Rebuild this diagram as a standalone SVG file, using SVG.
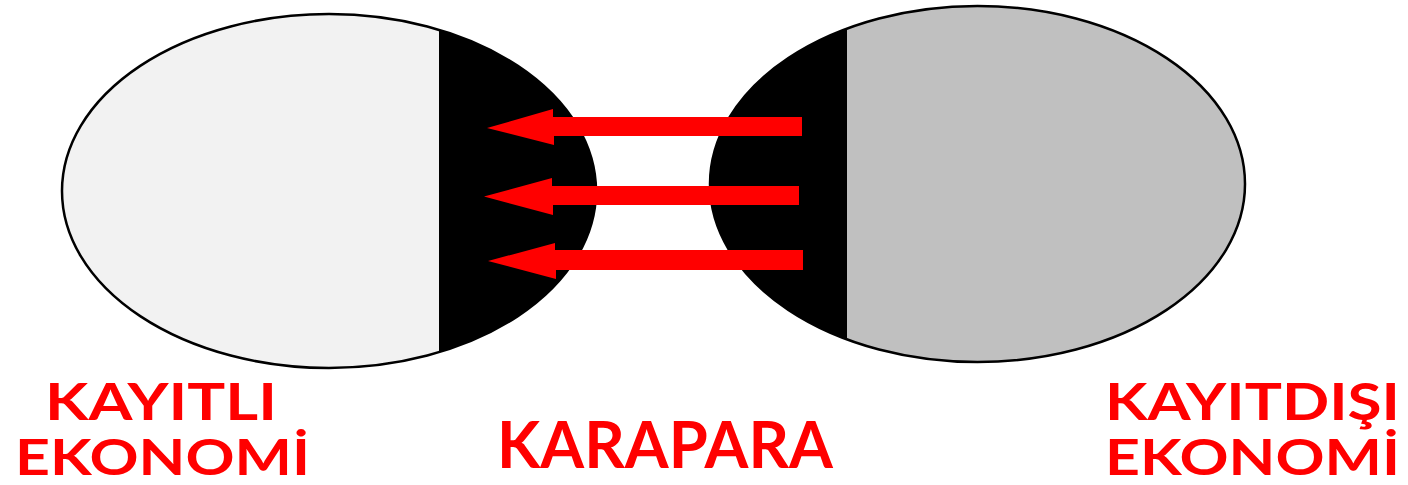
<svg xmlns="http://www.w3.org/2000/svg" width="1408" height="485" viewBox="0 0 1408 485">
<style>
.lbl{font-family:Lato,"Open Sans","Liberation Sans",sans-serif;font-weight:bold;fill:#ff0000;}
.outline{fill:none;stroke:#000;stroke-width:2.5;}
.arrow{fill:#ff0000;stroke:none;}
</style>
<defs>
<clipPath id="clipL"><ellipse cx="329" cy="191" rx="267" ry="177"/></clipPath>
<clipPath id="clipR"><ellipse cx="977.5" cy="184" rx="267.5" ry="178"/></clipPath>
</defs>
<rect width="1408" height="485" fill="#fff"/>
<g id="kayitli-ekonomi">
<g clip-path="url(#clipL)">
<rect x="60" y="10" width="379" height="362" fill="#f2f2f2"/>
<rect x="439" y="10" width="160" height="362" fill="#000"/>
</g>
<ellipse class="outline" cx="329" cy="191" rx="267" ry="177"/>
</g>
<g id="kayitdisi-ekonomi">
<g clip-path="url(#clipR)">
<rect x="708" y="4" width="139" height="360" fill="#000"/>
<rect x="847" y="4" width="400" height="360" fill="#c0c0c0"/>
</g>
<ellipse class="outline" cx="977.5" cy="184" rx="267.5" ry="178"/>
</g>
<g id="connectors">
<path class="arrow" d="M802,117 H553 V109 L487,128 L554,145 V136 H802 Z"/>
<path class="arrow" d="M799,186 H552 V178 L484,196.5 L553,215 V205 H799 Z"/>
<path class="arrow" d="M803,250 H555 V243 L488,261 L556,279 V270 H803 Z"/>
</g>
<g id="label-kayitli">
<text class="lbl" x="45" y="420" font-size="51" textLength="232" lengthAdjust="spacingAndGlyphs">KAYITLI</text>
<text class="lbl" x="15" y="475" font-size="50" textLength="295" lengthAdjust="spacingAndGlyphs">EKONOMİ</text>
</g>
<g id="label-karapara">
<text class="lbl" x="497" y="468" font-size="65" textLength="336" lengthAdjust="spacingAndGlyphs">KARAPARA</text>
</g>
<g id="label-kayitdisi">
<text class="lbl" x="1105" y="420" font-size="51" textLength="295" lengthAdjust="spacingAndGlyphs">KAYITDIŞI</text>
<text class="lbl" x="1105" y="475" font-size="50" textLength="295" lengthAdjust="spacingAndGlyphs">EKONOMİ</text>
</g>
</svg>
